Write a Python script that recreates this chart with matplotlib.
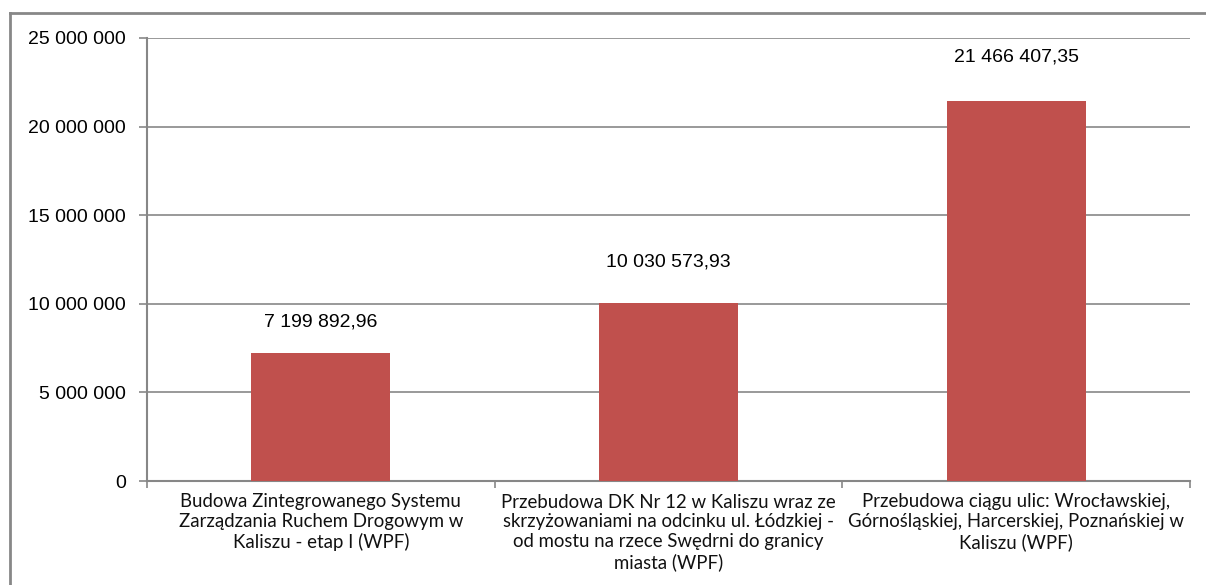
import matplotlib
matplotlib.use('Agg')
import matplotlib.pyplot as plt
from matplotlib.lines import Line2D
from matplotlib.ticker import FuncFormatter
import numpy as np

categories = [
    'Budowa Zintegrowanego Systemu\nZarządzania Ruchem Drogowym w\nKaliszu - etap I (WPF)',
    'Przebudowa DK Nr 12 w Kaliszu wraz ze\nskrzyżowaniami na odcinku ul. Łódzkiej -\nod mostu na rzece Swędrni do granicy\nmiasta (WPF)',
    'Przebudowa ciągu ulic: Wrocławskiej,\nGórnośląskiej, Harcerskiej, Poznańskiej w\nKaliszu (WPF)',
]
values = [7199892.96, 10030573.93, 21466407.35]
value_labels = ['7 199 892,96', '10 030 573,93', '21 466 407,35']
yticks = [0, 5000000, 10000000, 15000000, 20000000, 25000000]

grey = '#878787'
bar_color = '#C0504D'

fig = plt.figure(figsize=(12.06, 5.85), dpi=100)
ax = fig.add_axes([147/1206, 1-481/585, (1190-147)/1206, (481-38)/585])

x = np.arange(len(values))
bars = ax.bar(x, values, width=0.4, color=bar_color, zorder=3)

# labels above bars (offset in px, as in the original)
offsets = [31, 41, 44]
for xi, v, lab, off in zip(x, values, value_labels, offsets):
    ax.annotate(lab, (xi, v), xytext=(0, off * 0.72), textcoords='offset points',
                ha='center', va='center', fontsize=14, family='Liberation Sans',
                color='black')

ax.set_xlim(-0.5, 2.5)
ax.set_ylim(0, 25000000)
ax.set_yticks(yticks)
ax.yaxis.set_major_formatter(FuncFormatter(lambda v, p: f'{int(v):,}'.replace(',', ' ')))
ax.grid(axis='y', color=grey, lw=1.2, zorder=0)

# category labels, ticks at boundaries
ax.set_xticks(x)
ax.set_xticklabels(categories, fontsize=13.4, family='Lato', linespacing=1.2, color='#111111')
ax.set_xticks(np.arange(-0.5, 3.0, 1.0), minor=True)
ax.tick_params(axis='x', which='major', length=0, pad=9)
ax.tick_params(axis='x', which='minor', length=5, color=grey, width=1.2)
ax.tick_params(axis='y', length=6, color=grey, width=1.2, pad=9, labelsize=14)
for t in ax.get_yticklabels():
    t.set_family('Liberation Sans')

for s in ['top', 'right']:
    ax.spines[s].set_visible(False)
for s in ['left', 'bottom']:
    ax.spines[s].set_color(grey)
    ax.spines[s].set_linewidth(1.5)

# outer frame of the chart area
fig.add_artist(Line2D([10/1206, 1.0], [1-13/585, 1-13/585], transform=fig.transFigure,
                      color=grey, lw=2))
fig.add_artist(Line2D([10/1206, 10/1206], [0.0, 1-13/585], transform=fig.transFigure,
                      color=grey, lw=2))

fig.savefig('out.png', dpi=100)
